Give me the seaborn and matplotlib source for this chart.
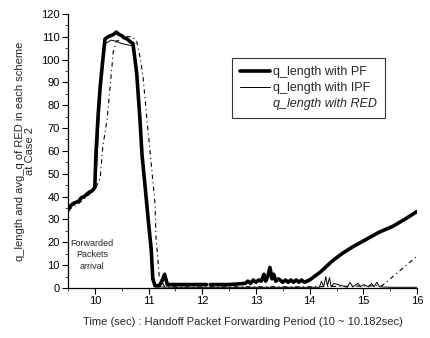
import numpy as np
import pandas as pd
import matplotlib
matplotlib.use("Agg")
import matplotlib.pyplot as plt
from matplotlib.ticker import MultipleLocator
import seaborn as sns

# ---- data ----
pf_t1 = [9.5, 9.55, 9.6, 9.65, 9.7, 9.75, 9.8, 9.85, 9.9, 9.95, 10.0, 10.02, 10.06, 10.1,
         10.15, 10.19, 10.25, 10.3, 10.35, 10.4, 10.45, 10.5, 10.55, 10.6, 10.65, 10.71,
         10.78, 10.84, 10.88, 10.93, 10.99, 11.05, 11.08, 11.12, 11.2, 11.25, 11.3, 11.35,
         11.5, 11.8, 12.08]
pf_v1 = [34, 36, 37, 37.5, 38, 39.5, 40, 41, 42, 42.5, 44, 58, 75, 88,
         100, 109, 110, 110.5, 111, 112, 111, 110.5, 109.5, 109, 108, 107,
         94, 74, 58, 46, 31, 17, 4, 1, 1, 3, 6, 1.5,
         1.5, 1.5, 1.5]
pf_t2 = [12.15, 12.5, 12.8, 12.85, 12.9, 12.95, 13.0, 13.05, 13.1, 13.15, 13.18, 13.22,
         13.26, 13.3, 13.33, 13.37, 13.42, 13.5, 13.55, 13.6, 13.65, 13.7, 13.75, 13.8,
         13.85, 13.9, 14.0, 14.2, 14.43, 14.6, 14.8, 15.07, 15.3, 15.55, 15.8, 16.0]
pf_v2 = [1.5, 1.5, 2, 3, 2, 3.5, 2.5, 3.5, 3, 6, 3, 5,
         9, 4, 6, 3, 4, 2.5, 3.5, 2.5, 3.5, 2.5, 3.5, 2.5,
         3.5, 2.5, 3.5, 7, 12, 15, 18, 21.5, 24.5, 27, 30.5, 33.5]

ipf_t = [9.5, 9.6, 9.7, 9.8, 9.9, 10.0, 10.04, 10.1, 10.15, 10.2, 10.3, 10.4, 10.5,
         10.6, 10.7, 10.75, 10.82, 10.9, 11.0, 11.06, 11.12, 11.5, 12.5, 13.5, 14.18,
         14.22, 14.26, 14.3, 14.33, 14.37, 14.4, 14.45, 14.7, 14.75, 14.8, 14.9, 14.95,
         15.0, 15.1, 15.15, 15.2, 15.25, 15.3, 15.5, 16.0]
ipf_v = [34, 36.5, 38, 40, 42, 43, 55, 85, 98, 107, 108.5, 108, 107,
         106.5, 106, 100, 80, 52, 28, 10, 0.5, 0.3, 0.3, 0.3, 0.3,
         3, 0.5, 5, 1, 4.5, 0.5, 2, 0.3, 2.5, 0.5, 2, 0.5,
         1.5, 0.5, 2, 0.5, 2.5, 0.5, 0.3, 0.3]

red_t = [9.5, 9.7, 9.9, 10.0, 10.1, 10.15, 10.23, 10.28, 10.32, 10.34, 10.4, 10.5, 10.6,
         10.7, 10.78, 10.85, 10.9, 10.97, 11.06, 11.12, 11.14, 11.2, 11.3, 12.5, 14.0,
         15.35, 15.5, 15.7, 15.85, 16.0]
red_v = [34, 37, 41, 43, 48, 62, 74, 87, 97, 103, 108, 109, 110,
         110, 108, 100, 92, 74, 52, 37, 22, 5, 0.5, 0.5, 0.5,
         1, 4, 8, 11, 14]

series_names = ["q_length with PF", "q_length with IPF", "q_length with RED"]
x_ticks = [10, 11, 12, 13, 14, 15, 16]
y_ticks = list(range(0, 121, 10))

# ---- build long table ----
rows = []
for t, v in zip(pf_t1, pf_v1):
    rows.append((series_names[0], 0, t, v))
for t, v in zip(pf_t2, pf_v2):
    rows.append((series_names[0], 1, t, v))
for t, v in zip(ipf_t, ipf_v):
    rows.append((series_names[1], 0, t, v))
for t, v in zip(red_t, red_v):
    rows.append((series_names[2], 0, t, v))
df = pd.DataFrame(rows, columns=["series", "seg", "t", "q"])

sns.set_theme(style="ticks")
plt.rcParams["font.family"] = ["Liberation Sans", "DejaVu Sans"]

fig = plt.figure(figsize=(4.3, 3.38), dpi=100)
ax = fig.add_axes([0.158, 0.148, 0.812, 0.811])

styles = {
    series_names[0]: dict(color="black", linewidth=2.6, linestyle="-"),
    series_names[1]: dict(color="black", linewidth=0.7, linestyle="-"),
    series_names[2]: dict(color="black", linewidth=0.8, linestyle=(0, (4, 3, 1, 3))),
}
handles = []
for name in series_names:
    sub = df[df["series"] == name]
    sns.lineplot(data=sub, x="t", y="q", units="seg", estimator=None, ax=ax,
                 sort=False, legend=False, **styles[name])
    handles.append(plt.Line2D([], [], **styles[name]))
# the RED sample is not visible in the reference legend
handles[2] = plt.Line2D([], [], color="none")

ax.set_xlim(9.5, 16)
ax.set_ylim(0, 120)
ax.set_xticks(x_ticks)
ax.set_yticks(y_ticks)
ax.xaxis.set_minor_locator(MultipleLocator(0.5))
ax.yaxis.set_minor_locator(MultipleLocator(5))
ax.tick_params(axis="both", which="major", direction="out", length=4, width=0.8,
               labelsize=8, colors="black", pad=2)
ax.tick_params(axis="both", which="minor", direction="out", length=2.5, width=0.6)
for s in ["left", "bottom"]:
    ax.spines[s].set_linewidth(0.9)
    ax.spines[s].set_color("black")
sns.despine(ax=ax)

ax.set_xlabel("Time (sec) : Handoff Packet Forwarding Period (10 ~ 10.182sec)",
              fontsize=8, labelpad=8)
ax.set_ylabel("q_length and avg_q of RED in each scheme\nat Case 2", fontsize=8,
              labelpad=4, linespacing=1.0)

ax.text(9.95, 14.5, "Forwarded\nPackets\narrival", fontsize=6.5, ha="center",
        va="center", linespacing=1.4)

leg = fig.legend(handles, series_names, loc="upper left",
                 bbox_to_anchor=(232 / 430, 1 - 58 / 338), fontsize=9,
                 frameon=True, fancybox=False, edgecolor="black",
                 handlelength=2.4, handletextpad=0.2, borderpad=0.65,
                 borderaxespad=0, labelspacing=0.3)
leg.get_frame().set_linewidth(0.8)
leg.get_texts()[2].set_fontstyle("italic")

fig.savefig("out.png", dpi=100)
